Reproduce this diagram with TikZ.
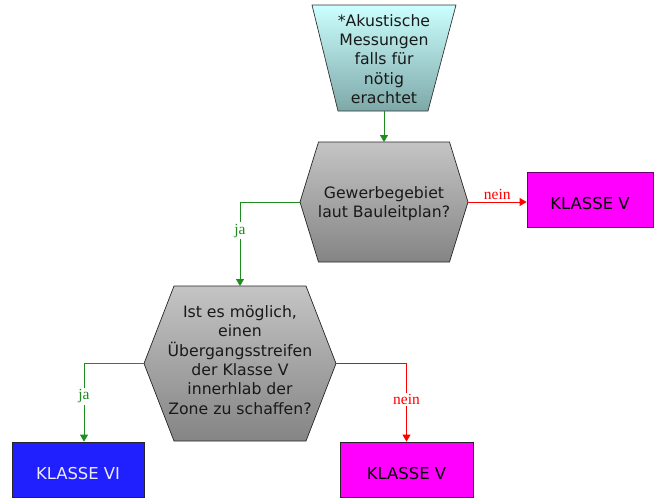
\documentclass[tikz,border=0pt]{standalone}
\usepackage{fontspec}
\setmainfont{DejaVu Sans}
\newfontfamily\labelfont{Liberation Serif}
\usepackage{xcolor}
\usepackage{tikz}
\usetikzlibrary{positioning}
\usetikzlibrary{arrows.meta,calc}
\definecolor{jagreen}{RGB}{30,140,30}
\definecolor{neinred}{RGB}{255,0,0}
\definecolor{klmagenta}{RGB}{255,0,255}
\definecolor{klblue}{RGB}{32,32,255}
\definecolor{klpurple}{RGB}{110,0,110}
\tikzstyle{klasse}=[rectangle,line width=0.8pt,minimum height=55pt,inner sep=0pt,text height=20pt,text depth=0pt,font=\fontsize{16.4}{19}\selectfont]
\tikzstyle{hexa}=[draw=black!85,line width=0.7pt,top color=black!23,bottom color=black!48]
\tikzset{txt/.style={align=center,font=\fontsize{15.7}{19.3}\selectfont,text=black!90}}
\tikzset{lbl/.style={fill=white,inner sep=1.5pt,font=\labelfont\fontsize{15.5}{18}\selectfont}}
\tikzset{jaline/.style={draw=jagreen,line width=0.8pt,-{Triangle[length=7pt,width=8pt]}}}
\tikzset{neinline/.style={draw=neinred,line width=0.8pt,-{Triangle[length=7pt,width=8pt]}}}

\begin{document}
\begin{tikzpicture}[x=1pt,y=-1pt]
\useasboundingbox (0,0) rectangle (654,499);

    % Messungen
    \shade[draw=black!80,line width=0.7pt,top color={rgb,255:red,204;green,255;blue,255},bottom color={rgb,255:red,125;green,168;blue,168}]
        (312,5) -- (456,5) -- (428,111) -- (338,111) -- cycle;
    \coordinate (ms) at (384,111);
    \node[txt] (mess) at (384,59) {*Akustische\\Messungen\\falls für\\nötig\\erachtet};

    % Fragen
    \foreach \cx/\cy/\hw/\tw/\hh/\name in {384/202/84/65.5/60/q1, 240/363.5/96/66/77.5/q2}{
        \shade[hexa] (\cx-\hw,\cy) -- (\cx-\tw,\cy-\hh) -- (\cx+\tw,\cy-\hh) -- (\cx+\hw,\cy)
            -- (\cx+\tw,\cy+\hh) -- (\cx-\tw,\cy+\hh) -- cycle;
        \coordinate (\name w) at (\cx-\hw,\cy);
        \coordinate (\name e) at (\cx+\hw,\cy);
        \coordinate (\name n) at (\cx,\cy-\hh);
    }
    \node[txt] (q1) at (384,204) {Gewerbegebiet\\laut Bauleitplan?};
    \node[txt] (q2) at (240,360) {Ist es möglich,\\einen\\Übergangsstreifen\\der Klasse V\\innerhlab der\\Zone zu schaffen?};

    % Klassen
    \node[klasse,draw=klpurple,fill=klmagenta,minimum width=126pt] (k5a) at (590,199.5) {KLASSE V};
    \node[klasse,draw=black!85,fill=klblue,text=white!92!blue,minimum width=132pt] (k6) at (78,469.5) {KLASSE VI};
    \node[klasse,draw=black!85,fill=klmagenta,minimum width=133pt] (k5b) at (406.5,469.5) {KLASSE V};

    \draw[jaline] (ms) -- (q1n);
    \draw[neinline] (q1e) -- node[lbl,above,text=neinred,fill=none] {nein} (q1e -| k5a.west);
    \draw[jaline] (q1w) -| node[lbl,pos=0.67,text=jagreen] {ja} (q2n);
    \draw[jaline] (q2w) -| node[lbl,pos=0.71,text=jagreen] {ja} ([xshift=6pt]k6.north);
    \draw[neinline] (q2e) -| node[lbl,pos=0.73,text=neinred] {nein} (k5b.north);

\end{tikzpicture}
\end{document}
